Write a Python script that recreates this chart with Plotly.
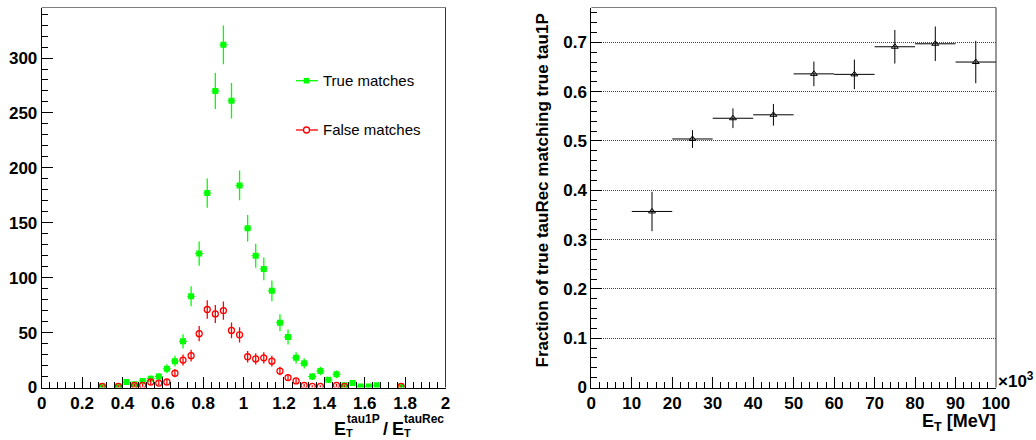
import numpy as np
import plotly.graph_objects as go

# ---- left panel: E_T(tau1P) / E_T(tauRec), bins of 0.04 ----
true_x = [0.30, 0.38, 0.42, 0.46, 0.50, 0.54, 0.58, 0.62, 0.66, 0.70,
          0.74, 0.78, 0.82, 0.86, 0.90, 0.94, 0.98, 1.02, 1.06, 1.10,
          1.14, 1.18, 1.22, 1.26, 1.30, 1.34, 1.38, 1.42, 1.46, 1.50,
          1.54, 1.58, 1.62, 1.66, 1.78]
true_n = [1, 1, 5, 3, 6, 8, 10, 17, 24, 42,
          83, 122, 177, 270, 312, 261, 184, 145, 120, 108,
          88, 59, 46, 27, 22, 10, 15, 7, 12, 2,
          4, 1, 1, 2, 1]

false_x = [0.30, 0.38, 0.46, 0.50, 0.54, 0.58, 0.62, 0.66, 0.70, 0.74,
           0.78, 0.82, 0.86, 0.90, 0.94, 0.98, 1.02, 1.06, 1.10, 1.14,
           1.18, 1.22, 1.26, 1.30, 1.34, 1.38, 1.46, 1.50, 1.78]
false_n = [1, 1, 2, 2, 5, 4, 5, 13, 25, 29,
           49, 71, 67, 70, 52, 48, 28, 26, 27, 24,
           15, 9, 6, 2, 1, 1, 2, 1, 1]
ratio_half_bin = 0.02

ratio_ticks = [0, 0.2, 0.4, 0.6, 0.8, 1.0, 1.2, 1.4, 1.6, 1.8, 2.0]
ratio_tick_labels = ["0", "0.2", "0.4", "0.6", "0.8", "1", "1.2", "1.4",
                     "1.6", "1.8", "2"]
count_ticks = [0, 50, 100, 150, 200, 250, 300]
count_tick_labels = ["0", "50", "100", "150", "200", "250", "300"]

# ---- right panel: matching fraction vs E_T (x10^3 MeV), bins of 10 ----
et_x = [15, 25, 35, 45, 55, 65, 75, 85, 95]
frac = [0.357, 0.504, 0.546, 0.553, 0.636, 0.635, 0.691, 0.697, 0.660]
frac_err = [0.040, 0.018, 0.020, 0.022, 0.025, 0.030, 0.034, 0.035, 0.043]
et_half_bin = 5

et_ticks = [0, 10, 20, 30, 40, 50, 60, 70, 80, 90, 100]
et_tick_labels = ["0", "10", "20", "30", "40", "50", "60", "70", "80", "90",
                  "100"]
frac_ticks = [0, 0.1, 0.2, 0.3, 0.4, 0.5, 0.6, 0.7]
frac_tick_labels = ["0", "0.1", "0.2", "0.3", "0.4", "0.5", "0.6", "0.7"]

W, H = 1036, 440
GREEN = "#00ff00"
RED = "#ff0000"
FONT = "Liberation Sans, Arial, Helvetica, sans-serif"


def fx(p):
    return p / W


def fy(p):
    return 1 - p / H


def bold(labels):
    return ["<b>%s</b>" % s for s in labels]


# plot frames in pixels
L_X0, L_X1 = 41.7, 445.5
R_X0, R_X1 = 591.3, 996.0
Y_TOP, Y_BOT = 7.5, 387.5

fig = go.Figure()

fig.add_trace(go.Scatter(
    x=true_x, y=true_n, mode="markers", xaxis="x", yaxis="y",
    marker=dict(symbol="square", size=6, color=GREEN, line=dict(width=0)),
    error_y=dict(type="data", array=np.sqrt(true_n), thickness=1.3,
                 width=0, color=GREEN),
    error_x=dict(type="constant", value=ratio_half_bin, thickness=1,
                 width=0, color=GREEN),
    showlegend=False, name="True matches"))

fig.add_trace(go.Scatter(
    x=false_x, y=false_n, mode="markers", xaxis="x", yaxis="y",
    marker=dict(symbol="circle-open", size=6, color=RED,
                line=dict(width=1.3, color=RED)),
    error_y=dict(type="data", array=np.sqrt(false_n), thickness=1.3,
                 width=0, color=RED),
    showlegend=False, name="False matches"))

fig.add_trace(go.Scatter(
    x=et_x, y=frac, mode="markers", xaxis="x2", yaxis="y2",
    marker=dict(symbol="triangle-up-open", size=6, color="black",
                line=dict(width=1, color="black")),
    error_y=dict(type="data", array=frac_err, thickness=1, width=0,
                 color="black"),
    error_x=dict(type="constant", value=et_half_bin, thickness=1, width=0,
                 color="black"),
    showlegend=False))

tickfont = dict(family=FONT, size=17, color="black")
common = dict(ticks="inside", ticklen=11, tickwidth=1, tickcolor="black",
              showline=True, linecolor="black", linewidth=1,
              zeroline=False, tickfont=tickfont, fixedrange=True,
              automargin=False, tickmode="array")

yd = [fy(Y_BOT), fy(Y_TOP)]

fig.update_layout(
    width=W, height=H,
    margin=dict(l=0, r=0, t=0, b=0, autoexpand=False),
    paper_bgcolor="white", plot_bgcolor="white",
    showlegend=False,
    xaxis=dict(domain=[fx(L_X0), fx(L_X1)], range=[0, 2],
               tickvals=ratio_ticks, ticktext=bold(ratio_tick_labels),
               anchor="y", showgrid=False,
               minor=dict(tick0=0, dtick=0.04, ticks="inside", ticklen=6,
                          tickcolor="black", showgrid=False), **common),
    yaxis=dict(domain=yd, range=[0, 346],
               tickvals=count_ticks, ticktext=bold(count_tick_labels),
               anchor="x", showgrid=False,
               minor=dict(tick0=0, dtick=10, ticks="inside", ticklen=6,
                          tickcolor="black", showgrid=False), **common),
    xaxis2=dict(domain=[fx(R_X0), fx(R_X1)], range=[0, 100],
                tickvals=et_ticks, ticktext=bold(et_tick_labels),
                anchor="y2", showgrid=False,
                minor=dict(tick0=0, dtick=2, ticks="inside", ticklen=6,
                           tickcolor="black", showgrid=False), **common),
    yaxis2=dict(domain=yd, range=[0, 0.7706],
                tickvals=frac_ticks, ticktext=bold(frac_tick_labels),
                anchor="x2", showgrid=True, gridcolor="#444444",
                griddash="1px,1px", gridwidth=1,
                minor=dict(tick0=0, dtick=0.02, ticks="inside", ticklen=6,
                           tickcolor="black", showgrid=False), **common),
)

shapes = []
# frame edges (top grey, right darker)
for x0, x1 in [(L_X0, L_X1), (R_X0, R_X1)]:
    shapes.append(dict(type="line", xref="paper", yref="paper",
                       x0=fx(x0), x1=fx(x1), y0=fy(Y_TOP), y1=fy(Y_TOP),
                       line=dict(color="#808080", width=1)))
    shapes.append(dict(type="line", xref="paper", yref="paper",
                       x0=fx(x1), x1=fx(x1), y0=fy(Y_TOP), y1=fy(Y_BOT),
                       line=dict(color="#333333", width=1)))

# legend keys
LEG_X0, LEG_X1, LEG_XC = 296, 318, 306.5
LEG_Y1, LEG_Y2 = 80.7, 130.0
shapes.append(dict(type="line", xref="paper", yref="paper",
                   x0=fx(LEG_X0), x1=fx(LEG_X1), y0=fy(LEG_Y1), y1=fy(LEG_Y1),
                   line=dict(color=GREEN, width=1.3)))
shapes.append(dict(type="rect", xref="paper", yref="paper",
                   x0=fx(LEG_XC - 2.8), x1=fx(LEG_XC + 2.8),
                   y0=fy(LEG_Y1 + 2.8), y1=fy(LEG_Y1 - 2.8),
                   fillcolor=GREEN, line=dict(width=0)))
shapes.append(dict(type="line", xref="paper", yref="paper",
                   x0=fx(LEG_X0), x1=fx(LEG_X1), y0=fy(LEG_Y2), y1=fy(LEG_Y2),
                   line=dict(color=RED, width=1.3)))
shapes.append(dict(type="circle", xref="paper", yref="paper",
                   x0=fx(LEG_XC - 3), x1=fx(LEG_XC + 3),
                   y0=fy(LEG_Y2 + 3), y1=fy(LEG_Y2 - 3),
                   fillcolor="white", line=dict(color=RED, width=1.3)))
fig.update_layout(shapes=shapes)

ann = []


def text(s, x, y, size, xanchor="left", yanchor="middle", bold=True,
         angle=0):
    ann.append(dict(text="<b>%s</b>" % s if bold else s,
                    x=fx(x), y=fy(y), xref="paper", yref="paper",
                    xanchor=xanchor, yanchor=yanchor, showarrow=False,
                    textangle=angle, borderpad=0,
                    font=dict(family=FONT, size=size, color="black")))


# legend labels
text("True matches", 322, LEG_Y1, 15, bold=False)
text("False matches", 322, LEG_Y2, 15, bold=False)

# left x-axis title: E_T^tau1P / E_T^tauRec with stacked indices
text("E", 332.5, 440, 18, yanchor="bottom")
text("tau1P", 345.5, 419, 12)
text("T", 344.5, 440, 11, yanchor="bottom")
text("/", 382, 440, 18, yanchor="bottom")
text("E", 390.5, 440, 18, yanchor="bottom")
text("tauRec", 403, 419, 12)
text("T", 402.5, 440, 11, yanchor="bottom")

# right x-axis title and exponent
text("E<sub>T</sub> [MeV]", 997, 422.5, 18, xanchor="right")
text("\u00d710<sup>3</sup>", 996.5, 380, 17)

# right y-axis title
text("Fraction of true tauRec matching true tau1P", 541.5, 13, 17,
     xanchor="center", yanchor="top", angle=-90)

fig.update_layout(annotations=ann)

fig.write_html("out.html")
